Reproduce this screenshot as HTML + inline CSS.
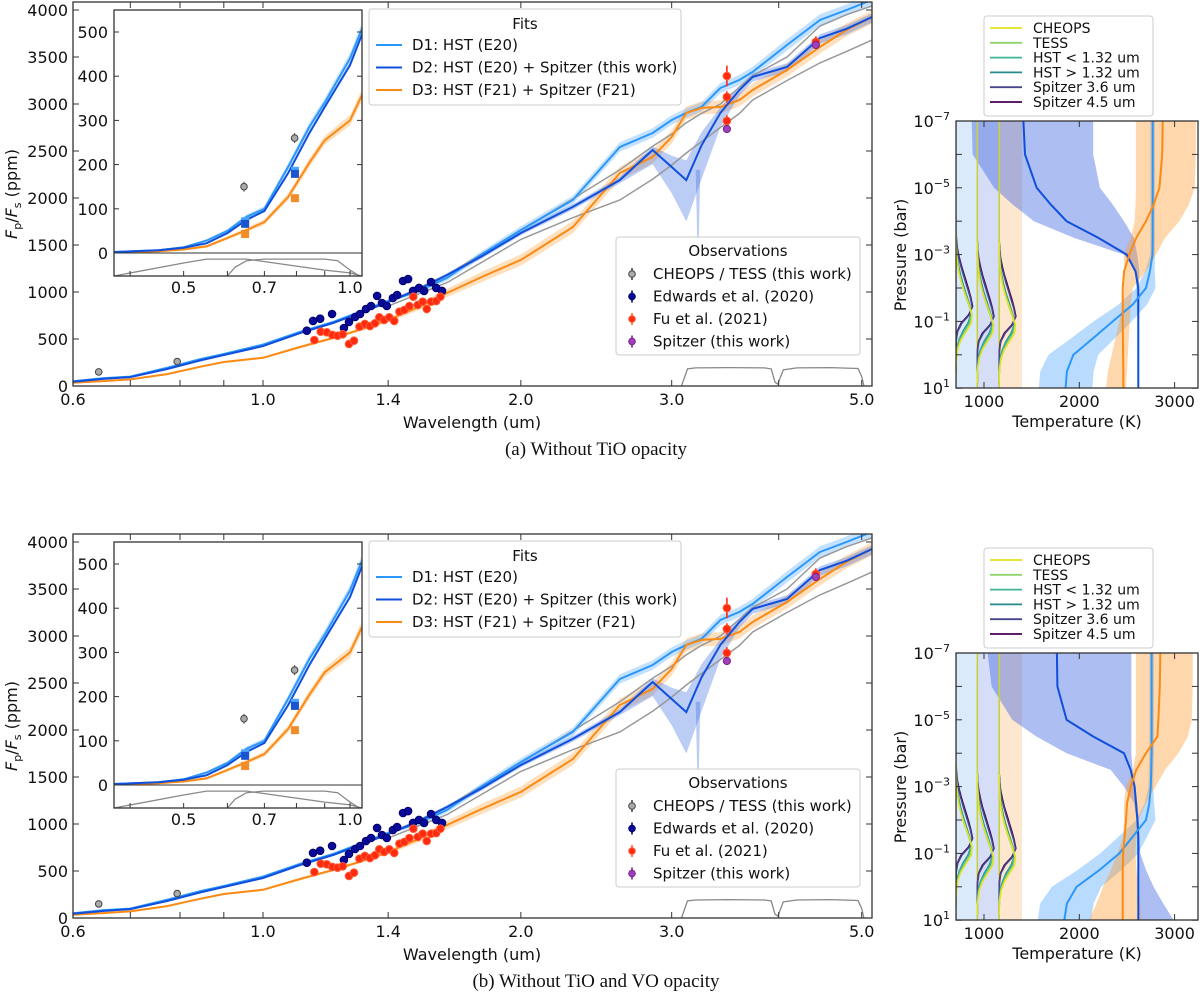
<!DOCTYPE html>
<html><head><meta charset="utf-8"><title>Emission spectra and TP profiles</title>
<style>
html,body{margin:0;padding:0;background:#fff;}
svg{display:block;}
text{font-family:"DejaVu Sans","Liberation Sans",sans-serif;fill:#111;}
.cap{font-family:"Liberation Serif",serif;font-size:19px;}
</style></head>
<body>
<svg id="fig" width="1200" height="994" viewBox="0 0 1200 994" xmlns="http://www.w3.org/2000/svg"></svg>
<script>
// ---------- spectrum data (wavelength um, Fp/Fs ppm) ----------
const lam = [0.37,0.45,0.5,0.55,0.6,0.65,0.7,0.773,0.844,0.9,1.0,1.105,1.207,1.3,1.4,1.52,1.64,1.8,2.0,2.3,2.61,2.85,3.0,3.12,3.25,3.42,3.6,3.73,4.09,4.47,4.8,5.14];
const d1 = [2,6,13,28,50,82,100,195,285,340,440,575,680,790,905,1010,1150,1400,1660,1979,2543,2692,2830,2905,2969,3170,3256,3341,3628,3894,4000,4107];
const d2 = [2,6,12,22,45,75,95,181,271,330,425,564,670,780,894,1030,1181,1380,1628,1905,2192,2511,2330,2190,2560,2905,3150,3288,3394,3702,3800,3926];
const d3 = [1,4,8,15,34,52,70,127,204,255,300,415,511,600,702,840,989,1160,1341,1690,2266,2437,2650,2905,2958,2969,3043,3149,3362,3607,3788,3926];
const d1err = [1,1,2,3,4,5,6,8,10,10,12,15,15,18,20,25,30,35,40,45,50,50,50,50,50,55,55,55,60,60,60,60];
const d3err = [1,1,2,3,4,5,6,8,10,10,12,15,15,18,25,35,45,55,60,65,70,70,70,70,70,70,70,70,70,70,70,70];
const d2errLo = [1,1,1,2,3,4,5,6,8,8,10,12,12,15,15,20,20,25,25,30,35,150,280,440,360,150,60,50,50,60,60,60];
const d2errHi = [1,1,1,2,3,4,5,6,8,8,10,12,12,15,15,20,20,25,25,30,35,40,120,210,140,60,40,40,40,40,40,40];
const greyLam = [1.4,1.64,2.0,2.3,2.61,2.85,3.0,3.12,3.25,3.42,3.6,3.73,4.09,4.47,4.8,5.14];
const greyHi = [894,1181,1660,1990,2300,2550,2680,2800,2900,3000,3180,3300,3500,3830,3950,4043];
const greyLo = [850,1100,1560,1790,1979,2200,2350,2479,2600,2750,2900,3043,3250,3437,3560,3681];
// observations
const edLam = [1.125,1.144,1.166,1.204,1.243,1.26,1.281,1.298,1.319,1.337,1.359,1.377,1.395,1.418,1.434,1.457,1.477,1.497,1.521,1.542,1.571,1.593,1.618];
const edVal = [588,692,716,766,617,681,734,766,819,851,958,883,851,936,968,1117,1138,1011,1043,1011,1106,1043,1011];
const fuLam = [1.148,1.168,1.187,1.205,1.222,1.239,1.26,1.277,1.296,1.315,1.333,1.351,1.367,1.385,1.404,1.423,1.443,1.462,1.482,1.498,1.516,1.536,1.553,1.571,1.593,1.611,3.48,3.48,3.48,4.42];
const fuVal = [489,578,571,543,535,550,447,482,631,660,638,667,731,702,731,692,791,809,851,950,862,897,819,897,904,950,3298,3075,2820,3660];
const fuErr = [40,40,40,40,40,40,40,40,40,40,40,40,40,40,40,40,40,40,40,40,40,40,40,40,40,40,110,60,60,60];
const spLam = [3.48,4.42];
const spVal = [2734,3628];
const chLam = [0.643,0.794];
const chVal = [150,260];
const sqLam = [0.646,0.795];
const sqD2 = [66,179];
const sqD1 = [72,186];
const sqD3 = [43,124];
// filter responses
const spfLam = [3.08,3.13,3.2,3.5,3.85,3.92,3.96,3.99,4.05,4.2,4.6,4.95,5.0,5.03];
const spfResp = [0,0.9,0.95,0.97,0.95,0.9,0.2,0.1,0.85,0.95,0.97,0.92,0.5,0];
const cheLam = [0.374,0.5,0.55,0.65,0.8,0.9,1.0,1.05];
const cheResp = [0,0.72,0.94,0.94,0.55,0.33,0.17,0];
const tesLam = [0.6,0.62,0.65,0.7,0.9,0.95,1.0,1.04];
const tesResp = [0,0.5,0.85,0.94,0.94,0.85,0.33,0];
// ---------- TP profile data (log10 P bar, K) ----------
const tpLogP = [-7,-6,-5,-4.5,-4,-3.5,-3,-2.5,-2,-1.5,-1,-0.5,0,0.5,1];
const aD2T = [1413,1430,1553,1700,1867,2200,2497,2590,2619,2619,2619,2619,2619,2619,2619];
const aD2L = [871,880,1106,1300,1524,1944,2469,2590,2600,2605,2610,2612,2614,2615,2615];
const aD2R = [2146,2146,2216,2350,2469,2574,2608,2630,2625,2625,2625,2625,2625,2625,2625];
const aD1T = [2770,2770,2770,2770,2770,2770,2768,2741,2700,2559,2350,2146,1937,1870,1856];
const aD3T = [2875,2870,2840,2780,2700,2597,2525,2470,2455,2455,2455,2458,2460,2462,2462];
const aD3L = [2594,2594,2594,2590,2580,2540,2469,2469,2469,2460,2420,2380,2340,2300,2280];
const aD3R = [3224,3222,3210,3150,3049,2900,2805,2700,2560,2540,2530,2520,2510,2500,2490];
const bD2T = [1765,1770,1867,2146,2469,2539,2580,2595,2610,2619,2619,2619,2619,2619,2619];
const bD2L = [1038,1080,1296,1550,1867,2329,2469,2575,2600,2605,2610,2612,2614,2615,2615];
const bD2R = [2546,2546,2546,2546,2546,2560,2590,2610,2625,2630,2640,2700,2780,2880,2990];
const bD1T = [2759,2759,2759,2759,2759,2755,2750,2735,2700,2560,2420,2211,1972,1870,1843];
const bD3T = [2850,2845,2830,2820,2700,2597,2540,2500,2490,2475,2460,2455,2455,2455,2455];
const bD3L = [2594,2594,2594,2594,2594,2560,2490,2469,2469,2460,2400,2330,2250,2180,2102];
const bD3R = [3190,3190,3180,3140,3040,2900,2800,2700,2620,2600,2590,2600,2620,2640,2650];
const d1W = [25,25,25,25,25,25,25,50,100,150,200,230,260,280,280];
// contribution functions
const cfLogP = [-4,-3.75,-3.5,-3.25,-3,-2.75,-2.5,-2.25,-2,-1.75,-1.5,-1.25,-1,-0.75,-0.5,-0.25,0,0.25];
const cfCheops = [0,0,0.02,0.05,0.1,0.18,0.3,0.45,0.62,0.8,0.95,0.9,0.6,0.3,0.12,0.04,0,0];
const cfTess = [0,0,0.02,0.05,0.1,0.18,0.3,0.44,0.6,0.78,0.92,0.85,0.55,0.28,0.1,0.03,0,0];
const cfHstLo = [0,0.01,0.03,0.06,0.12,0.2,0.33,0.48,0.65,0.82,0.9,0.75,0.45,0.2,0.08,0.02,0,0];
const cfHstHi = [0,0.01,0.03,0.07,0.14,0.24,0.37,0.52,0.68,0.83,0.88,0.7,0.4,0.18,0.06,0.02,0,0];
const cfSp36 = [0,0.02,0.06,0.14,0.26,0.4,0.55,0.7,0.85,0.95,0.8,0.35,0.1,0.02,0,0,0,0];
const cfSp45 = [0,0.03,0.08,0.18,0.3,0.45,0.6,0.75,0.88,0.98,0.75,0.3,0.07,0.01,0,0,0,0];
const cfBases = [706,930,1160];
const cfShift = [0.3,0.6,0.6];

const NS="http://www.w3.org/2000/svg";
const svg=document.getElementById('fig');
function E(tag,a,p){const e=document.createElementNS(NS,tag);for(const k in a)e.setAttribute(k,a[k]);(p||svg).appendChild(e);return e;}
function T(txt,a,p){const e=E('text',a,p);e.textContent=txt;return e;}
function pts(xs,ys){return xs.map((x,i)=>x.toFixed(1)+','+ys[i].toFixed(1)).join(' ');}

const C1='#2b97fb',C2='#0f4fdc',C3='#fb8a14';

function drawMain(dy,tag){
  const xm=l=>263+372*Math.log(l);
  const ym=v=>386+dy-v*0.094;
  const xi=l=>350+240*Math.log(l);
  const yi=v=>253+dy-v*0.442;
  const g=E('g',{});
  
  
  const cp=E('clipPath',{id:'cm'+tag},g);
  E('rect',{x:73,y:2+dy,width:799,height:384},cp);
  const pg=E('g',{'clip-path':'url(#cm'+tag+')'},g);
  function band(lo,hi,fill,name,xf,yf,par){
    const xs=lam.map(xf);
    const p=E('polygon',{points:pts(xs,hi.map(yf))+' '+pts(xs.slice().reverse(),lo.map(yf).reverse()),fill:fill,stroke:'none'},par);
    
    
  }
  band(d3.map((v,i)=>v-d3err[i]),d3.map((v,i)=>v+d3err[i]),'rgba(255,165,70,0.35)','d3-band',xm,ym,pg);
  band(d1.map((v,i)=>v-d1err[i]),d1.map((v,i)=>v+d1err[i]),'rgba(60,160,255,0.3)','d1-band',xm,ym,pg);
  band(d2.map((v,i)=>v-d2errLo[i]),d2.map((v,i)=>v+d2errHi[i]),'rgba(60,110,225,0.35)','d2-band',xm,ym,pg);
  const sp=E('polygon',{points:pts([xm(3.2),xm(3.22),xm(3.24)],[ym(2300),ym(1150),ym(2300)]),fill:'rgba(60,110,225,0.35)'},pg);
  
  
  const gh=E('polyline',{points:pts(greyLam.map(xm),greyHi.map(ym)),fill:'none',stroke:'#999',"stroke-width":1.5},pg);
  
  
  const gl=E('polyline',{points:pts(greyLam.map(xm),greyLo.map(ym)),fill:'none',stroke:'#999',"stroke-width":1.5},pg);
  
  
  const l1=E('polyline',{points:pts(lam.map(xm),d1.map(ym)),fill:'none',stroke:C1,"stroke-width":2},pg);
  
  
  const l3=E('polyline',{points:pts(lam.map(xm),d3.map(ym)),fill:'none',stroke:C3,"stroke-width":2},pg);
  
  
  const l2=E('polyline',{points:pts(lam.map(xm),d2.map(ym)),fill:'none',stroke:C2,"stroke-width":2},pg);
  
  
  const sf=E('polyline',{points:pts(spfLam.map(xm),spfResp.map(r=>386+dy-r*19)),fill:'none',stroke:'#888',"stroke-width":1.3},pg);
  
  
  function pt(x,y,err,fill,edge,name,r){
    const eb=E('line',{x1:x,x2:x,y1:y-err,y2:y+err,stroke:fill,"stroke-width":1.6},pg);
    
    
    const c=E('circle',{cx:x,cy:y,r:r,fill:fill,stroke:edge,"stroke-width":1},pg);
    
    
  }
  edLam.forEach((l,i)=>pt(xm(l),ym(edVal[i]),4,'#0a0a9a','#00006a','edwards-point',3.8));
  fuLam.forEach((l,i)=>pt(xm(l),ym(fuVal[i]),fuErr[i]*0.094,'#ff2a10','#ff5a30','fu-point',3.8));
  spLam.forEach((l,i)=>pt(xm(l),ym(spVal[i]),4,'#a040b8','#7a2090','spitzer-point',3.6));
  chLam.forEach((l,i)=>pt(xm(l),ym(chVal[i]),3,'#aaa','#444','cheops-tess-point',3.3));
  const fr=E('rect',{x:73,y:2+dy,width:799,height:384,fill:'none',stroke:'#333',"stroke-width":1.3},g);
  
  
  const xt=[0.6,0.7,0.8,0.9,1.0,1.4,2.0,3.0,4.0,5.0];
  const xl=['0.6','1.0','1.4','2.0','3.0','5.0'];
  xt.forEach(l=>{const x=xm(l);E('line',{x1:x,x2:x,y1:386+dy,y2:380+dy,stroke:'#333'},g);E('line',{x1:x,x2:x,y1:2+dy,y2:8+dy,stroke:'#333'},g);});
  xl.forEach(s=>{const t=T(s,{x:xm(parseFloat(s)),y:405+dy,'font-size':16,'text-anchor':'middle'},g);
    
    });
  for(let v=0;v<=4000;v+=500){const y=ym(v);E('line',{x1:73,x2:79,y1:y,y2:y,stroke:'#333'},g);E('line',{x1:866,x2:872,y1:y,y2:y,stroke:'#333'},g);
    const t=T(String(v),{x:68,y:y+6,'font-size':16,'text-anchor':'end'},g);
    
    }
  const xa=T('Wavelength (um)',{x:472,y:428+dy,'font-size':16,'text-anchor':'middle'},g);
  
  
  const ya=E('text',{x:0,y:0,'font-size':16,'text-anchor':'middle',transform:'translate(17,'+(194+dy)+') rotate(-90)'},g);
  ya.innerHTML='<tspan font-style="italic">F</tspan><tspan font-size="11" dy="4">p</tspan><tspan dy="-4">/</tspan><tspan font-style="italic">F</tspan><tspan font-size="11" dy="4">s</tspan><tspan dy="-4"> (ppm)</tspan>';
  
  
  const ig=E('g',{},g);
  
  
  E('rect',{x:114,y:10+dy,width:248,height:266,fill:'#fff'},ig);
  const ic=E('clipPath',{id:'ci'+tag},ig);
  E('rect',{x:114,y:10+dy,width:248,height:243},ic);
  const ipg=E('g',{'clip-path':'url(#ci'+tag+')'},ig);
  band(d3.map((v,i)=>v-d3err[i]),d3.map((v,i)=>v+d3err[i]),'rgba(255,165,70,0.35)','inset-d3-band',xi,yi,ipg);
  band(d1.map((v,i)=>v-d1err[i]),d1.map((v,i)=>v+d1err[i]),'rgba(60,160,255,0.3)','inset-d1-band',xi,yi,ipg);
  const il1=E('polyline',{points:pts(lam.map(xi),d1.map(yi)),fill:'none',stroke:C1,"stroke-width":2},ipg);
  
  
  const il3=E('polyline',{points:pts(lam.map(xi),d3.map(yi)),fill:'none',stroke:C3,"stroke-width":2},ipg);
  
  
  const il2=E('polyline',{points:pts(lam.map(xi),d2.map(yi)),fill:'none',stroke:C2,"stroke-width":2},ipg);
  
  
  sqLam.forEach((l,i)=>{
    const a=E('rect',{x:xi(l)-4,y:yi(sqD1[i])-4,width:8,height:8,fill:'#4aa6ff'},ipg);
    
    
    const b=E('rect',{x:xi(l)-4,y:yi(sqD2[i])-4,width:8,height:8,fill:'#1a55d0'},ipg);
    
    
    const c=E('rect',{x:xi(l)-4,y:yi(sqD3[i])-4,width:8,height:8,fill:'#f28c28'},ipg);
    
    
  });
  chLam.forEach((l,i)=>{
    E('line',{x1:xi(l),x2:xi(l),y1:yi(chVal[i])-5,y2:yi(chVal[i])+5,stroke:'#444'},ipg);
    const c=E('circle',{cx:xi(l),cy:yi(chVal[i]),r:3.3,fill:'#aaa',stroke:'#444'},ipg);
    
    
  });
  const fc=E('polyline',{points:pts(cheLam.map(xi),cheResp.map(r=>276+dy-r*18)),fill:'none',stroke:'#888',"stroke-width":1.3},ig);
  
  
  const ft=E('polyline',{points:pts(tesLam.map(xi),tesResp.map(r=>276+dy-r*18)),fill:'none',stroke:'#888',"stroke-width":1.3},ig);
  
  
  E('line',{x1:114,x2:362,y1:253+dy,y2:253+dy,stroke:'#333',"stroke-width":1},ig);
  const ifr=E('rect',{x:114,y:10+dy,width:248,height:266,fill:'none',stroke:'#333',"stroke-width":1.3},ig);
  
  
  [0.4,0.5,0.6,0.7,0.8,0.9,1.0].forEach(l=>{const x=xi(l);E('line',{x1:x,x2:x,y1:276+dy,y2:271+dy,stroke:'#333'},ig);});
  ['0.5','0.7','1.0'].forEach(s=>{const t=T(s,{x:xi(parseFloat(s)),y:293+dy,'font-size':16,'text-anchor':'middle'},ig);
    
    });
  for(let v=0;v<=500;v+=100){const y=yi(v);E('line',{x1:114,x2:119,y1:y,y2:y,stroke:'#333'},ig);E('line',{x1:357,x2:362,y1:y,y2:y,stroke:'#333'},ig);
    const t=T(String(v),{x:108,y:y+6,'font-size':16,'text-anchor':'end'},ig);
    
    }
  const fl=E('g',{},g);
  
  
  E('rect',{x:369,y:9+dy,width:312,height:96,rx:3,fill:'rgba(255,255,255,0.85)',stroke:'#ccc'},fl);
  T('Fits',{x:525,y:29+dy,'font-size':15,'text-anchor':'middle'},fl);
  [['D1: HST (E20)',C1],['D2: HST (E20) + Spitzer (this work)',C2],['D3: HST (F21) + Spitzer (F21)',C3]].forEach((it,i)=>{
    const y=45+dy+i*22.5;
    const ln=E('line',{x1:376,x2:402,y1:y,y2:y,stroke:it[1],"stroke-width":2},fl);
    
    
    const t=T(it[0],{x:412,y:y+5,'font-size':15},fl);
    
    
  });
  const ol=E('g',{},g);
  
  
  E('rect',{x:616,y:237+dy,width:244,height:118,rx:3,fill:'rgba(255,255,255,0.85)',stroke:'#ccc'},ol);
  T('Observations',{x:738,y:256+dy,'font-size':15,'text-anchor':'middle'},ol);
  [['CHEOPS / TESS (this work)','#aaa','#444'],['Edwards et al. (2020)','#0a0a9a','#00006a'],['Fu et al. (2021)','#ff2a10','#ff5a30'],['Spitzer (this work)','#a040b8','#7a2090']].forEach((it,i)=>{
    const y=274+dy+i*22.5;
    E('line',{x1:632,x2:632,y1:y-6,y2:y+6,stroke:it[2],"stroke-width":1.6},ol);
    const c=E('circle',{cx:632,cy:y,r:3.3,fill:it[1],stroke:it[2]},ol);
    
    
    const t=T(it[0],{x:653,y:y+5,'font-size':15},ol);
    
    
  });
}

function drawTP(dy,tag,D2T,D2L,D2R,D1T,D3T,D3L,D3R){
  const xt=t=>984+(t-1000)*0.0953;
  const yp=lp=>121+dy+(lp+7)*33.4;
  const g=E('g',{});
  
  
  const cp=E('clipPath',{id:'ct'+tag},g);
  E('rect',{x:956,y:121+dy,width:242,height:267},cp);
  const pg=E('g',{'clip-path':'url(#ct'+tag+')'},g);
  [[956,977,'#dbeafb'],[977,999,'#d6ddf6'],[999,1022,'#fde7cf']].forEach(b=>{
    const r=E('rect',{x:b[0],y:121+dy,width:b[1]-b[0],height:267,fill:b[2]},pg);
    
    
  });
  const ys=tpLogP.map(yp);
  function bandP(L,R,fill,name){
    const p=E('polygon',{points:pts(L.map(xt),ys)+' '+pts(R.map(xt).reverse(),ys.slice().reverse()),fill:fill},pg);
    
    
  }
  bandP(D2L,D2R,'rgba(60,100,225,0.42)','d2-tp-band');
  bandP(D1T.map((v,i)=>v-d1W[i]),D1T.map((v,i)=>v+d1W[i]),'rgba(70,160,250,0.38)','d1-tp-band');
  bandP(D3L,D3R,'rgba(255,150,40,0.38)','d3-tp-band');
  const cfs=[[cfCheops,'#e3e31b'],[cfTess,'#8fd36b'],[cfHstLo,'#3fb59a'],[cfHstHi,'#238a8d'],[cfSp36,'#46468f'],[cfSp45,'#440154']];
  cfBases.forEach((b,gi)=>{
    const x0=xt(b);
    const bl=E('line',{x1:x0,x2:x0,y1:121+dy,y2:388+dy,stroke:gi==0?'#bbb':'#c8d040',"stroke-width":1.6},pg);
    
    
    cfs.slice().reverse().forEach(c=>{
      const xs=c[0].map(v=>x0+v*17);
      const yy=cfLogP.map(l=>yp(l+cfShift[gi]));
      const pl=E('polyline',{points:pts(xs,yy),fill:'none',stroke:c[1],"stroke-width":1.5,'stroke-linejoin':'round'},pg);
      
      
    });
  });
  const l2=E('polyline',{points:pts(D2T.map(xt),ys),fill:'none',stroke:C2,"stroke-width":2},pg);
  
  
  const l1=E('polyline',{points:pts(D1T.map(xt),ys),fill:'none',stroke:C1,"stroke-width":2},pg);
  
  
  const l3=E('polyline',{points:pts(D3T.map(xt),ys),fill:'none',stroke:C3,"stroke-width":2},pg);
  
  
  const fr=E('rect',{x:956,y:121+dy,width:242,height:267,fill:'none',stroke:'#333',"stroke-width":1.3},g);
  
  
  [1000,2000,3000].forEach(t=>{const x=xt(t);E('line',{x1:x,x2:x,y1:388+dy,y2:382+dy,stroke:'#333'},g);E('line',{x1:x,x2:x,y1:121+dy,y2:127+dy,stroke:'#333'},g);
    const tl=T(String(t),{x:x,y:407+dy,'font-size':16,'text-anchor':'middle'},g);
    
    });
  for(let e=-7;e<=1;e++){const y=yp(e);E('line',{x1:956,x2:962,y1:y,y2:y,stroke:'#333'},g);E('line',{x1:1192,x2:1198,y1:y,y2:y,stroke:'#333'},g);
    if((e+7)%2==0){const tl=E('text',{x:950,y:y+6,'font-size':16,'text-anchor':'end'},g);
      tl.innerHTML='10<tspan font-size="11" dy="-7">'+(e<0?'\u2212'+(-e):e)+'</tspan>';
      
      }}
  const xa=T('Temperature (K)',{x:1077,y:427+dy,'font-size':16,'text-anchor':'middle'},g);
  
  
  const ya=T('Pressure (bar)',{x:0,y:0,'font-size':16,'text-anchor':'middle',transform:'translate(906,'+(255+dy)+') rotate(-90)'},g);
  
  
  const lg=E('g',{},g);
  
  
  E('rect',{x:984,y:16+dy,width:169,height:100,rx:3,fill:'#fff',stroke:'#ccc'},lg);
  [['CHEOPS','#e3e31b'],['TESS','#8fd36b'],['HST  < 1.32 um','#3fb59a'],['HST  > 1.32 um','#238a8d'],['Spitzer 3.6 um','#46468f'],['Spitzer 4.5 um','#440154']].forEach((it,i)=>{
    const y=28+dy+i*14.8;
    const ln=E('line',{x1:990,x2:1022,y1:y,y2:y,stroke:it[1],"stroke-width":1.8},lg);
    
    
    const t=T(it[0],{x:1033,y:y+5,'font-size':14,'xml:space':'preserve'},lg);
    
    
  });
}

drawMain(0,'a');
drawTP(0,'a',aD2T,aD2L,aD2R,aD1T,aD3T,aD3L,aD3R);
drawMain(532,'b');
drawTP(532,'b',bD2T,bD2L,bD2R,bD1T,bD3T,bD3L,bD3R);
const ca=T('(a) Without TiO opacity',{x:596,y:455,'text-anchor':'middle',class:'cap'});


const cb=T('(b) Without TiO and VO opacity',{x:596,y:987,'text-anchor':'middle',class:'cap'});


</script>
</body></html>
